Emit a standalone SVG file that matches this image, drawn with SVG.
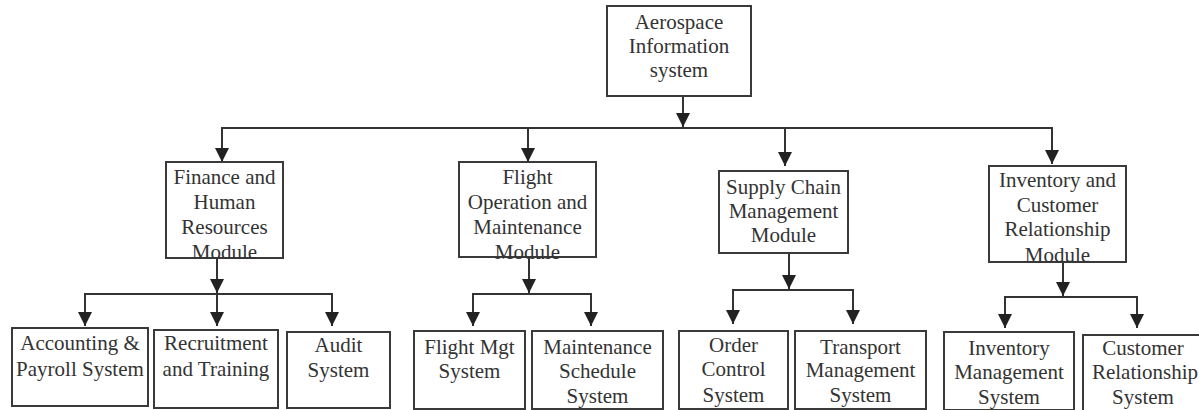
<svg xmlns="http://www.w3.org/2000/svg" width="1199" height="410" viewBox="0 0 1199 410">
<style>
.box{fill:#fff;stroke:#3a3a3a;stroke-width:2}
.t{font-size:21px;fill:#333;text-anchor:middle}
.c{fill:none;stroke:#333;stroke-width:2}
</style>
<defs>
<marker id="dn" markerUnits="userSpaceOnUse" markerWidth="14" markerHeight="14" viewBox="0 0 14 14" refX="7" refY="14" orient="0">
<path d="M0,0 L14,0 L7,14 Z" fill="#222"/>
</marker>
</defs>
<rect width="1199" height="410" fill="#fff"/>
<g id="connectors" class="c">
<line x1="683" y1="96" x2="683" y2="127" marker-end="url(#dn)"/>
<line x1="221" y1="128" x2="1053" y2="128"/>
<line x1="222" y1="128" x2="222" y2="162" marker-end="url(#dn)"/>
<line x1="528" y1="128" x2="528" y2="162" marker-end="url(#dn)"/>
<line x1="785" y1="128" x2="785" y2="166" marker-end="url(#dn)"/>
<line x1="1052" y1="128" x2="1052" y2="164" marker-end="url(#dn)"/>
<line x1="217" y1="258" x2="217" y2="293" marker-end="url(#dn)"/>
<line x1="84" y1="294" x2="333" y2="294"/>
<line x1="85" y1="294" x2="85" y2="326" marker-end="url(#dn)"/>
<line x1="217" y1="294" x2="217" y2="326" marker-end="url(#dn)"/>
<line x1="332" y1="294" x2="332" y2="326" marker-end="url(#dn)"/>
<line x1="529" y1="257" x2="529" y2="293" marker-end="url(#dn)"/>
<line x1="472" y1="294" x2="592" y2="294"/>
<line x1="473" y1="294" x2="473" y2="326" marker-end="url(#dn)"/>
<line x1="591" y1="294" x2="591" y2="326" marker-end="url(#dn)"/>
<line x1="789" y1="253" x2="789" y2="289" marker-end="url(#dn)"/>
<line x1="732" y1="290" x2="854" y2="290"/>
<line x1="733" y1="290" x2="733" y2="324" marker-end="url(#dn)"/>
<line x1="853" y1="290" x2="853" y2="324" marker-end="url(#dn)"/>
<line x1="1063" y1="262" x2="1063" y2="296" marker-end="url(#dn)"/>
<line x1="1004" y1="297" x2="1138" y2="297"/>
<line x1="1005" y1="297" x2="1005" y2="328" marker-end="url(#dn)"/>
<line x1="1137" y1="297" x2="1137" y2="328" marker-end="url(#dn)"/>
</g>
<g id="nodes" font-family="Liberation Serif, Times New Roman, serif">
<g id="root"><rect class="box" x="607" y="6" width="144" height="90"/>
<text class="t" x="679" y="29">Aerospace</text><text class="t" x="679" y="53">Information</text><text class="t" x="679" y="77">system</text></g>
<g id="finance"><rect class="box" x="166" y="162" width="117" height="96"/>
<text class="t" x="224.5" y="184">Finance and</text><text class="t" x="224.5" y="209">Human</text><text class="t" x="224.5" y="234">Resources</text><text class="t" x="224.5" y="259">Module</text></g>
<g id="flightop"><rect class="box" x="459" y="162" width="137" height="95"/>
<text class="t" x="527.5" y="184">Flight</text><text class="t" x="527.5" y="209">Operation and</text><text class="t" x="527.5" y="234">Maintenance</text><text class="t" x="527.5" y="259">Module</text></g>
<g id="supply"><rect class="box" x="719" y="171" width="129" height="82"/>
<text class="t" x="783.5" y="194">Supply Chain</text><text class="t" x="783.5" y="218">Management</text><text class="t" x="783.5" y="242">Module</text></g>
<g id="invcrm"><rect class="box" x="989" y="166" width="137" height="96"/>
<text class="t" x="1057.5" y="187">Inventory and</text><text class="t" x="1057.5" y="212">Customer</text><text class="t" x="1057.5" y="236">Relationship</text><text class="t" x="1057.5" y="262">Module</text></g>
<g id="accounting"><rect class="box" x="12" y="328" width="136" height="78"/>
<text class="t" x="80" y="350">Accounting &amp;</text><text class="t" x="80" y="376">Payroll System</text></g>
<g id="recruitment"><rect class="box" x="154" y="330" width="124" height="78"/>
<text class="t" x="216" y="350">Recruitment</text><text class="t" x="216" y="376">and Training</text></g>
<g id="audit"><rect class="box" x="287" y="332" width="103" height="76"/>
<text class="t" x="338.5" y="352">Audit</text><text class="t" x="338.5" y="377">System</text></g>
<g id="flightmgt"><rect class="box" x="414" y="331" width="111" height="78"/>
<text class="t" x="469.5" y="354">Flight Mgt</text><text class="t" x="469.5" y="378">System</text></g>
<g id="maintenance"><rect class="box" x="532" y="331" width="131" height="78"/>
<text class="t" x="597.5" y="354">Maintenance</text><text class="t" x="597.5" y="378">Schedule</text><text class="t" x="597.5" y="403">System</text></g>
<g id="order"><rect class="box" x="679" y="331" width="109" height="78"/>
<text class="t" x="733.5" y="352">Order</text><text class="t" x="733.5" y="376">Control</text><text class="t" x="733.5" y="402">System</text></g>
<g id="transport"><rect class="box" x="795" y="331" width="131" height="78"/>
<text class="t" x="860.5" y="354">Transport</text><text class="t" x="860.5" y="377">Management</text><text class="t" x="860.5" y="402">System</text></g>
<g id="invmgmt"><rect class="box" x="944" y="332" width="130" height="78"/>
<text class="t" x="1009" y="355">Inventory</text><text class="t" x="1009" y="379">Management</text><text class="t" x="1009" y="404">System</text></g>
<g id="crm"><rect class="box" x="1083" y="335" width="120" height="78"/>
<text class="t" x="1143" y="355">Customer</text><text class="t" x="1145" y="379">Relationship</text><text class="t" x="1143" y="404">System</text></g>
</g>
</svg>
